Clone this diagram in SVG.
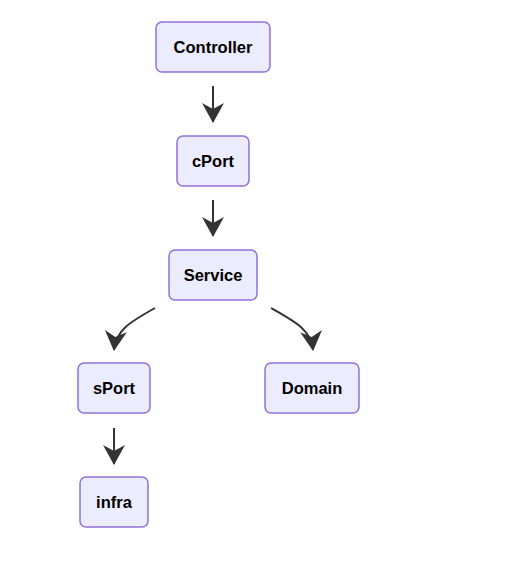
<svg xmlns="http://www.w3.org/2000/svg" width="522" height="575" viewBox="0 0 522 575">
<style>
.node rect{fill:#ECECFF;stroke:#9370DB;stroke-width:1.5}
.node text{font-family:"Liberation Sans",Arial,sans-serif;font-weight:bold;font-size:16.5px;fill:#000;text-anchor:middle;dominant-baseline:central}
.edge{fill:none;stroke:#333;stroke-width:2;marker-end:url(#arr)}
</style>
<defs>
<marker id="arr" viewBox="0 0 20 22" refX="19" refY="11" markerWidth="20" markerHeight="22" markerUnits="userSpaceOnUse" orient="auto">
<path d="M0,0 L20,11 L0,22 L6,11 Z" fill="#333"/>
</marker>
</defs>
<rect width="522" height="575" fill="#fff"/>
<g id="connectors">
<path class="edge" d="M213,86 L213,122"/>
<path class="edge" d="M213,200 L213,236"/>
<path class="edge" d="M155,308 C130,322 116,330 114,350"/>
<path class="edge" d="M271,308 C296,322 311,330 313,350"/>
<path class="edge" d="M114,428 L114,464"/>
</g>
<g id="Controller" class="node"><rect x="156" y="22" width="114" height="50" rx="6"/><text x="213" y="47">Controller</text></g>
<g id="cPort" class="node"><rect x="177" y="136" width="72" height="50" rx="6"/><text x="213" y="161">cPort</text></g>
<g id="Service" class="node"><rect x="169" y="250" width="88" height="50" rx="6"/><text x="213" y="275">Service</text></g>
<g id="sPort" class="node"><rect x="78" y="363" width="72" height="50" rx="6"/><text x="114" y="388">sPort</text></g>
<g id="Domain" class="node"><rect x="265" y="363" width="94" height="50" rx="6"/><text x="312" y="388">Domain</text></g>
<g id="infra" class="node"><rect x="80" y="477" width="68" height="50" rx="6"/><text x="114" y="502">infra</text></g>
</svg>
